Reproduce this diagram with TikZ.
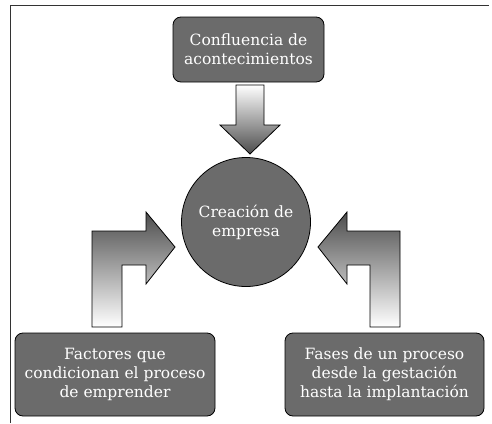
\documentclass[tikz,border=0pt]{standalone}
\usepackage{fontspec}
\setmainfont{DejaVu Serif}
\usetikzlibrary{positioning, calc}

\begin{document}
\begin{tikzpicture}[
    x=1pt, y=-1pt,
    font=\fontsize{15.5}{19}\selectfont,
    caja/.style={rounded corners=8pt, draw=black, thick, fill=black!58, text=white, align=center, inner sep=1pt},
    flecha/.style={draw=black, thick},
]
\useasboundingbox (0,0) rectangle (492,423);
% marco
\draw[black!80] (10,423) -- (10,5) -- (489,5);

% nodos
\node[caja, minimum width=151pt, minimum height=65pt] (conf) at (248.5,49.5) {Confluencia de\\acontecimientos};
\node[circle, draw=black, thick, fill=black!58, text=white, align=center, minimum size=129pt] (emp) at (246,222) {Creación de\\empresa};
\node[caja, minimum width=200pt, minimum height=83pt] (fact) at (115,374.5) {Factores que\\condicionan el proceso\\de emprender};
\node[caja, minimum width=199pt, minimum height=83pt] (fases) at (384.5,374.5) {Fases de un proceso\\desde la gestación\\hasta la implantación};

% flechas
\path[flecha, top color=white, bottom color=black!70] (236,85) -- (264,85) -- (264,125) -- (280,125) -- (250,154) -- (220,125) -- (236,125) -- cycle;
\path[flecha, top color=black!70, bottom color=white] (92,327) -- (92,231) -- (146,231) -- (146,212) -- (175,247) -- (146,284) -- (146,265) -- (122,265) -- (122,327) -- cycle;
\path[flecha, top color=black!70, bottom color=white] (400,327) -- (400,231) -- (347,231) -- (347,212) -- (318,247) -- (347,284) -- (347,265) -- (370,265) -- (370,327) -- cycle;
\end{tikzpicture}
\end{document}
